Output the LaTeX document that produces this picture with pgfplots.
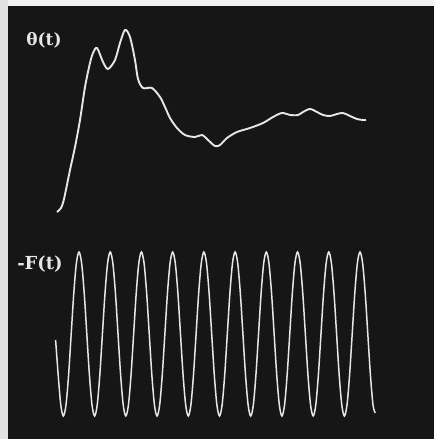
\documentclass[border=0pt]{standalone}
\usepackage{pgfplots}
\pgfplotsset{compat=1.18}
\usepackage{fontspec}
\newfontfamily\lblfont{DejaVu Serif}
\definecolor{frame}{HTML}{E2E2E2}
\definecolor{topstrip}{HTML}{F2F2F2}
\definecolor{scope}{HTML}{161616}
\definecolor{trace}{HTML}{E6E6E6}
\begin{document}
\begin{tikzpicture}
\begin{axis}[
  scale only axis, width=434bp, height=439bp,
  xmin=0, xmax=434, ymin=0, ymax=439, y dir=reverse,
  hide axis, clip=false]
\fill[frame] (axis cs:0,0) rectangle (axis cs:434,439);
\fill[topstrip] (axis cs:8,0) rectangle (axis cs:434,6);
\fill[scope] (axis cs:8,6) rectangle (axis cs:434,439);
% theta(t)
\addplot[trace, line width=1.9bp, smooth, tension=0.5] table {
x y
57 212
61 208
64 199
70 170
75 147
80 120
85 87
90 63
93 53
97 48
103 62
108 69
115 60
120 43
125 30
130 37
135 60
138 79
143 88
152 88
160 97
165 107
170 118
177 128
185 135
195 137
202 135
208 140
215 146
220 145
227 138
237 132
250 128
263 123
273 117
282 113
290 115
298 115
303 112
310 109
317 112
323 115
330 116
337 114
343 113
350 116
357 119
363 120
366 120
};
% -F(t)
\addplot[trace, line width=1.5bp, smooth, tension=0.5] table {
x y
55.6 340
58.19 375
60.79 405
63.39 416
65.99 405
68.59 375
71.20 334
73.80 293
76.40 263
79.00 252
81.60 263
84.21 293
86.81 334
89.41 375
92.01 405
94.61 416
97.21 405
99.81 375
102.42 334
105.02 293
107.62 263
110.22 252
112.82 263
115.43 293
118.03 334
120.63 375
123.23 405
125.83 416
128.43 405
131.03 375
133.64 334
136.24 293
138.84 263
141.44 252
144.04 263
146.65 293
149.25 334
151.85 375
154.45 405
157.06 416
159.66 405
162.26 375
164.87 334
167.47 293
170.07 263
172.67 252
175.27 263
177.88 293
180.48 334
183.08 375
185.68 405
188.28 416
190.88 405
193.48 375
196.09 334
198.69 293
201.29 263
203.89 252
206.49 263
209.10 293
211.70 334
214.30 375
216.90 405
219.50 416
222.10 405
224.70 375
227.31 334
229.91 293
232.51 263
235.11 252
237.71 263
240.32 293
242.92 334
245.52 375
248.12 405
250.72 416
253.32 405
255.92 375
258.53 334
261.13 293
263.73 263
266.33 252
268.93 263
271.54 293
274.14 334
276.74 375
279.34 405
281.94 416
284.54 405
287.14 375
289.75 334
292.35 293
294.95 263
297.55 252
300.15 263
302.76 293
305.36 334
307.96 375
310.56 405
313.17 416
315.77 405
318.37 375
320.98 334
323.58 293
326.18 263
328.78 252
331.38 263
333.99 293
336.59 334
339.19 375
341.79 405
344.39 416
346.99 405
349.59 375
352.20 334
354.80 293
357.40 263
360.00 252
362.60 263
365.21 293
367.81 334
370.41 375
373.01 405
375.20 413
};
\node[text=trace, font=\fontsize{17}{20}\selectfont\lblfont\bfseries] at (axis cs:44,40) {θ(t)};
\node[text=trace, font=\fontsize{18}{20}\selectfont\lblfont\bfseries] at (axis cs:40,264) {-F(t)};
\end{axis}
\end{tikzpicture}
\end{document}
